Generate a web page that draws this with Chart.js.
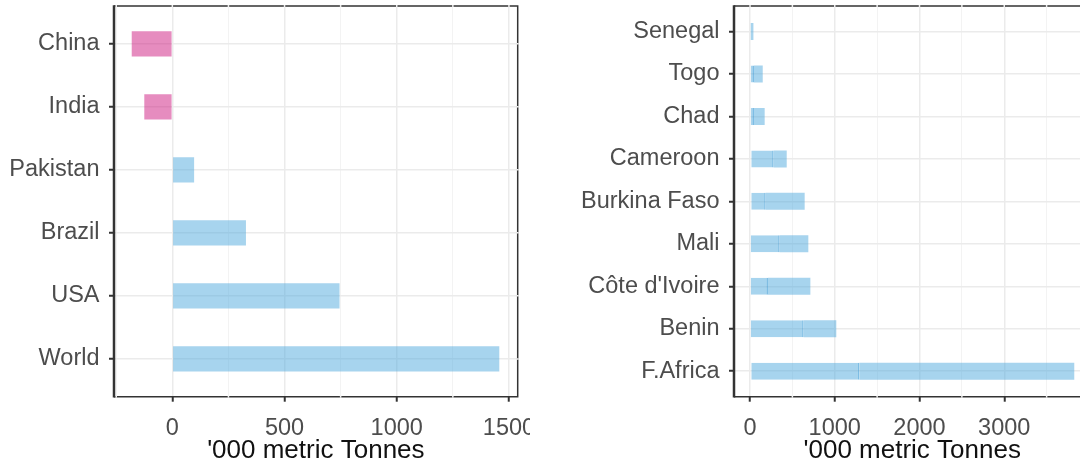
<!DOCTYPE html>
<html>
<head>
<meta charset="utf-8">
<script src="https://cdn.jsdelivr.net/npm/chart.js@4.4.1/dist/chart.umd.min.js"></script>
<style>
  html, body { margin: 0; padding: 0; background: #fff; overflow: hidden; width: 1080px; height: 466px; }
  #left  { position: absolute; left: 0; top: 0; width: 530px; height: 466px; overflow: hidden; }
  #right { position: absolute; left: 540px; top: 0; width: 562px; height: 466px; overflow: hidden; }
  canvas { position: absolute; left: 0; top: -20px; }
</style>
</head>
<body>
<div id="left"><canvas id="c1" width="570" height="486"></canvas></div>
<div id="right"><canvas id="c2" width="562" height="486"></canvas></div>
<script>
// left panel: net trade, '000 t
const worldCats = ['China', 'India', 'Pakistan', 'Brazil', 'USA', 'World'];
const worldVals = [-181, -125, 97, 328, 745, 1457];
const leftTicks = [0, 500, 1000, 1500];
const leftGrid = [-250, 0, 250, 500, 750, 1000, 1250, 1500];

// right panel: two stacked pieces per country
const africaCats = ['Senegal', 'Togo', 'Chad', 'Cameroon', 'Burkina Faso', 'Mali', "Côte d'Ivoire", 'Benin', 'F.Africa'];
const africaStart = [0, 0, 0, 15, 15, 0, 0, 0, 15];
const africaSplit = [0, 47, 47, 279, 185, 350, 212, 633, 1290];
const africaEnd   = [40, 150, 173, 433, 645, 688, 712, 1018, 3826];
const rightTicks = [0, 1000, 2000, 3000];
const rightGrid = [0, 500, 1000, 1500, 2000, 2500, 3000, 3500, 4000];

const BLUE = 'rgba(80,170,222,0.5)';
const PINK = 'rgba(205,25,128,0.5)';
const SPLIT = 'rgba(40,145,210,0.6)';
const GRID = '#EBEBEB', GRID_MINOR = '#F3F3F3';
const FONT = "'Liberation Sans', Arial, sans-serif";

// panel box drawn by hand so grid lines can break the border like the ggplot export
const frame = {
  id: 'frame',
  afterDatasetsDraw(chart, args, opts) {
    const { ctx, chartArea: a, scales: { x, y } } = chart;
    ctx.save();
    ctx.strokeStyle = '#333';
    ctx.lineWidth = 1.5;
    ctx.beginPath();
    ctx.moveTo(a.left, a.top); ctx.lineTo(a.right, a.top);
    ctx.moveTo(a.left, a.bottom); ctx.lineTo(a.right, a.bottom);
    if (opts.right) { ctx.moveTo(a.right, a.top - 0.75); ctx.lineTo(a.right, a.bottom + 0.75); }
    ctx.stroke();
    ctx.lineWidth = 2.5;
    ctx.beginPath();
    ctx.moveTo(a.left, a.top - 0.75); ctx.lineTo(a.left, a.bottom + 0.75);
    ctx.stroke();

    ctx.strokeStyle = '#EDEDED';
    ctx.lineWidth = 1.5;
    ctx.beginPath();
    x.ticks.forEach(t => {
      const px = x.getPixelForValue(t.value);
      if (px <= a.left + 2 || px >= a.right - 2) return;
      ctx.moveTo(px, a.top - 1); ctx.lineTo(px, a.top + 1);
      if (!opts.major.includes(t.value)) { ctx.moveTo(px, a.bottom - 1); ctx.lineTo(px, a.bottom + 1); }
    });
    if (opts.right) {
      y.ticks.forEach(t => {
        const py = y.getPixelForValue(t.value);
        ctx.moveTo(a.right - 1, py); ctx.lineTo(a.right + 1, py);
      });
    }
    ctx.stroke();
    ctx.restore();
  }
};

function xAxis(min, max, grid, major, xHeight) {
  return {
    type: 'linear', min, max,
    afterBuildTicks: s => { s.ticks = grid.map(v => ({ value: v })); },
    ticks: {
      autoSkip: false, maxRotation: 0,
      padding: 13, color: '#4D4D4D', font: { family: FONT, size: 23.5 },
      callback: v => major.includes(v) ? String(v) : ''
    },
    grid: {
      color: c => major.includes(c.tick.value) ? GRID : GRID_MINOR,
      lineWidth: c => major.includes(c.tick.value) ? 1.5 : 1,
      tickColor: c => major.includes(c.tick.value) ? '#333' : 'rgba(0,0,0,0)',
      tickLength: 5, tickWidth: 2
    },
    border: { display: false },
    title: { display: true, text: "'000 metric Tonnes", color: '#111', font: { family: FONT, size: 26 }, padding: { top: 0, bottom: 0 } },
    afterFit: s => { s.height = xHeight; }
  };
}

function yAxis(cats, width) {
  return {
    type: 'linear', min: -0.6, max: cats.length - 0.4, reverse: true, offset: false,
    afterBuildTicks: s => { s.ticks = cats.map((c, i) => ({ value: i })); },
    ticks: { autoSkip: false, padding: 9.5, color: '#4D4D4D', font: { family: FONT, size: 23.5 }, callback: v => cats[v] },
    grid: { offset: false, color: GRID, lineWidth: 1.5, tickColor: '#333', tickLength: 5, tickWidth: 2 },
    border: { display: false },
    afterFit: s => { s.width = width; }
  };
}

new Chart(document.getElementById('c1'), {
  type: 'bar',
  data: {
    datasets: [{
      data: worldVals.map((v, i) => ({ x: v, y: i })),
      backgroundColor: worldVals.map(v => v < 0 ? PINK : BLUE),
      borderWidth: 0
    }]
  },
  options: {
    responsive: false, animation: false, indexAxis: 'y',
    categoryPercentage: 1, barPercentage: 0.4,
    layout: { padding: { top: 26, right: 52.3, left: 0, bottom: 0 } },
    scales: { x: xAxis(-260, 1539, leftGrid, leftTicks, 69.3), y: yAxis(worldCats, 114) },
    plugins: { legend: { display: false }, tooltip: { enabled: false }, frame: { right: true, major: leftTicks } }
  },
  plugins: [frame]
});

new Chart(document.getElementById('c2'), {
  type: 'bar',
  data: {
    datasets: [
      {
        data: africaCats.map((c, i) => ({ x: [africaStart[i], africaSplit[i]], y: i })),
        backgroundColor: BLUE, borderColor: SPLIT,
        borderWidth: { top: 0, bottom: 0, left: 0, right: 1.5 }, borderSkipped: false
      },
      {
        data: africaCats.map((c, i) => ({ x: [africaSplit[i], africaEnd[i]], y: i })),
        backgroundColor: BLUE, borderWidth: 0
      }
    ]
  },
  options: {
    responsive: false, animation: false, indexAxis: 'y',
    grouped: false, categoryPercentage: 1, barPercentage: 0.4,
    layout: { padding: { top: 26, right: 0, left: 0, bottom: 0 } },
    scales: { x: xAxis(-189, 4017, rightGrid, rightTicks, 69.3), y: yAxis(africaCats, 194) },
    plugins: { legend: { display: false }, tooltip: { enabled: false }, frame: { right: false, major: rightTicks } }
  },
  plugins: [frame]
});
</script>
</body>
</html>
